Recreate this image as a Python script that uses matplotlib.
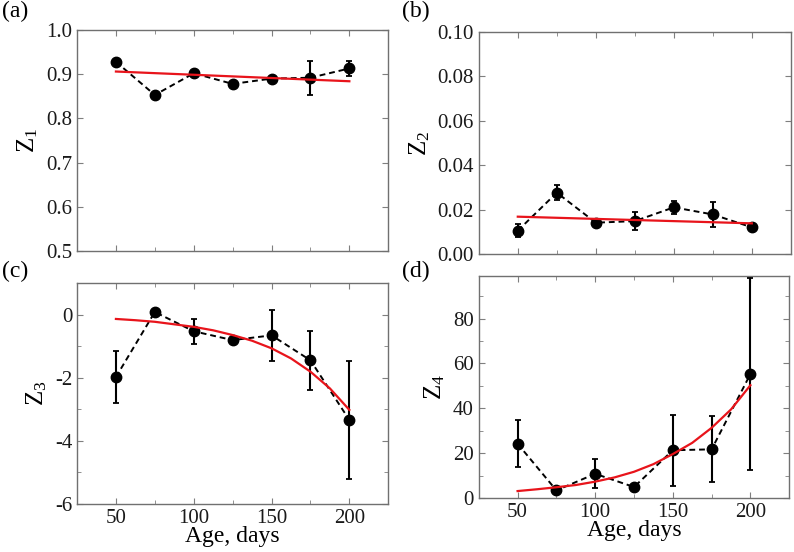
import numpy as np
import matplotlib.pyplot as plt
from matplotlib.ticker import MultipleLocator

plt.rcParams['font.family'] = ['Liberation Serif', 'DejaVu Serif']
plt.rcParams['mathtext.fontset'] = 'custom'
plt.rcParams['mathtext.rm'] = 'Liberation Serif'
plt.rcParams['mathtext.it'] = 'Liberation Serif:italic'
plt.rcParams['font.size'] = 15

# ---- data ----
age = [50, 75, 100, 125, 150, 175, 200]

z1 = [0.928, 0.853, 0.902, 0.878, 0.890, 0.892, 0.913]
z1_err = [0.003, 0.004, 0.004, 0.003, 0.004, 0.038, 0.017]
z1_fit_x = [50, 200]
z1_fit = [0.906, 0.884]

z2 = [0.0105, 0.0276, 0.0141, 0.0148, 0.0210, 0.0178, 0.0120]
z2_err = [0.0030, 0.0035, 0.0015, 0.0040, 0.0028, 0.0056, 0.0010]
z2_fit_x = [50, 200]
z2_fit = [0.0168, 0.0138]

z3 = [-1.98, 0.08, -0.53, -0.81, -0.66, -1.45, -3.34]
z3_err = [0.83, 0.08, 0.40, 0.08, 0.80, 0.93, 1.87]
fit_x = [50, 62.5, 75, 87.5, 100, 112.5, 125, 137.5, 150, 162.5, 175, 187.5, 200]
z3_fit = [-0.14, -0.18, -0.23, -0.31, -0.39, -0.50, -0.65, -0.83, -1.07, -1.39,
          -1.81, -2.34, -3.02]

z4 = [24.2, 3.4, 10.8, 4.9, 21.3, 21.7, 55.3]
z4_err = [10.5, 1.5, 6.5, 1.0, 15.8, 14.7, 42.9]
z4_fit = [3.1, 3.9, 4.8, 5.8, 7.3, 9.2, 11.7, 15.1, 19.6, 24.6, 31.3, 39.5, 50.3]

fig = plt.figure(figsize=(7.94, 5.52), dpi=100)

ax_a = fig.add_axes([0.097, 0.5453, 0.392, 0.4004])
ax_b = fig.add_axes([0.603, 0.5399, 0.393, 0.4022])
ax_c = fig.add_axes([0.097, 0.0870, 0.392, 0.4004])
ax_d = fig.add_axes([0.603, 0.0978, 0.391, 0.4022])


def draw(ax, y, yerr, fx, fy):
    ax.errorbar(age, y, yerr=yerr, fmt='o', color='black', ms=7.5,
                capsize=2.5, capthick=1.3, elinewidth=1.5, zorder=3)
    ax.plot(age, y, '--', color='black', lw=1.4, dashes=(3, 2), zorder=2)
    ax.plot(fx, fy, '-', color='#e8141b', lw=1.6, zorder=4)
    ax.set_xlim(25, 225)
    ax.xaxis.set_major_locator(MultipleLocator(50))
    ax.xaxis.set_minor_locator(MultipleLocator(25))
    ax.tick_params(which='both', direction='in', top=True, right=True,
                   color='#7f7f7f', labelcolor='#1a1a1a', labelsize=15)
    ax.tick_params(which='major', length=4)
    ax.tick_params(which='minor', length=3)
    for s in ax.spines.values():
        s.set_color('#707070')
        s.set_linewidth(1.0)


draw(ax_a, z1, z1_err, z1_fit_x, z1_fit)
ax_a.set_ylim(0.5, 1.0)
ax_a.yaxis.set_major_locator(MultipleLocator(0.1))
ax_a.set_yticklabels(['%.1f' % v for v in ax_a.get_yticks()])
ax_a.set_ylim(0.5, 1.0)
ax_a.set_xticklabels([])
ax_a.set_ylabel(r'Z$_1$', fontsize=18)

draw(ax_b, z2, z2_err, z2_fit_x, z2_fit)
ax_b.set_ylim(0.0, 0.1)
ax_b.yaxis.set_major_locator(MultipleLocator(0.02))
ax_b.set_yticklabels(['%.2f' % v for v in ax_b.get_yticks()])
ax_b.set_ylim(0.0, 0.1)
ax_b.set_xticklabels([])
ax_b.set_ylabel(r'Z$_2$', fontsize=18)

draw(ax_c, z3, z3_err, fit_x, z3_fit)
ax_c.set_ylim(-6, 1)
ax_c.yaxis.set_minor_locator(MultipleLocator(1))
ax_c.set_yticks([-6, -4, -2, 0])
ax_c.set_yticklabels(['-6', '-4', '-2', '0'])
ax_c.set_ylabel(r'Z$_3$', fontsize=18)
ax_c.set_xlabel('Age, days', fontsize=17, labelpad=-1)

draw(ax_d, z4, z4_err, fit_x, z4_fit)
ax_d.set_ylim(0, 99)
ax_d.set_yticks([0, 20, 40, 60, 80])
ax_d.yaxis.set_minor_locator(MultipleLocator(10))
ax_d.set_ylabel(r'Z$_4$', fontsize=18)
ax_d.set_xlabel('Age, days', fontsize=17, labelpad=-1)

fig.text(0.003, 0.998, '(a)', fontsize=17, va='top', ha='left')
fig.text(0.506, 0.998, '(b)', fontsize=17, va='top', ha='left')
fig.text(0.003, 0.527, '(c)', fontsize=17, va='top', ha='left')
fig.text(0.506, 0.527, '(d)', fontsize=17, va='top', ha='left')

fig.savefig('out.png', dpi=100)
